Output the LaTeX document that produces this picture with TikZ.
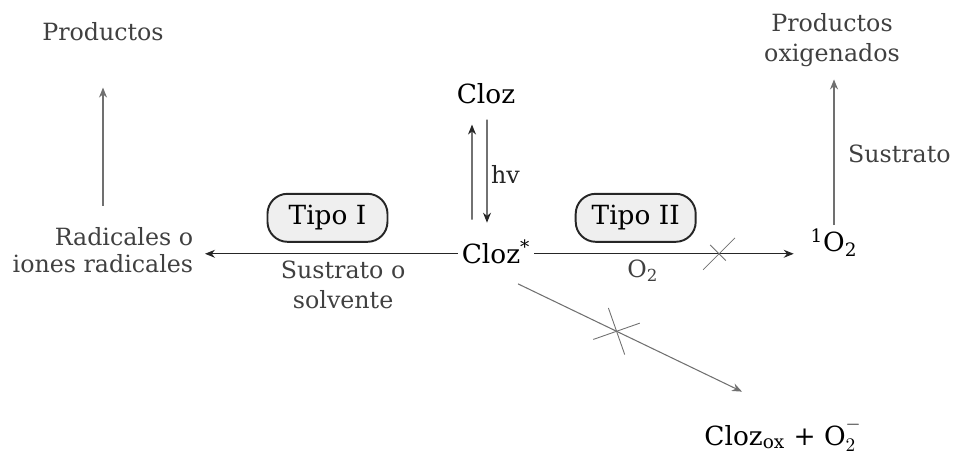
\documentclass[tikz,border=0pt]{standalone}
\usepackage{fontspec}
\setmainfont{DejaVu Serif}
\usepackage{xcolor}
\usetikzlibrary{arrows.meta,positioning,calc,shapes.misc}
\definecolor{clozgray}{HTML}{707070}
\definecolor{clozfill}{HTML}{efefef}

\begin{document}
\begin{tikzpicture}[
  x=0.2mm, y=-0.2mm,
  txt/.style={font=\fontsize{13.5}{17}\selectfont, text=black!75, inner sep=2pt},
  big/.style={font=\fontsize{15}{18}\selectfont, text=black, inner sep=2pt},
  tipo/.style={draw=black!85, line width=1.1pt, fill=clozfill, rounded corners=4mm, minimum width=24mm, minimum height=9.6mm, font=\fontsize{15}{18}\selectfont},
  arrow/.style={-{Stealth[length=2mm, width=1.6mm]}, line width=0.6pt, draw=black!85},
  garrow/.style={-{Stealth[length=2mm, width=1.6mm]}, line width=0.6pt, draw=clozgray},
  cross/.style={cross out, draw=clozgray, line width=0.5pt, inner sep=0pt},
]
  \useasboundingbox (0,0) rectangle (953,454);

  % Core species
  \node[big] (cloz) at (486,94) {Cloz};
  \node[big, anchor=base, text height=10.5pt, text depth=0pt] (clozs) at (491,263) {Cloz\rlap{\textsuperscript{*}}};
  \node[big] (oxy) at (834,243) {\textsuperscript{1}O\textsubscript{2}};
  \node[big, anchor=base] (ox) at (783,445) {Cloz\textsubscript{ox} + $\mathrm{O}_2^{-}$};

  % Products
  \node[txt, align=right, anchor=east, font=\fontsize{13.5}{15}\selectfont] (rad) at (197,250) {Radicales o\\iones radicales};
  \node[txt] (prodL) at (103,32) {Productos};
  \node[txt, align=center] (prodR) at (832,40) {Productos\\oxigenados};

  % Arrows
  \draw[arrow, shorten <=4.2mm, shorten >=3.3mm] ([xshift=-3.8mm]clozs.north) -- ([xshift=-2.8mm]cloz.south);
  \draw[arrow, shorten <=2.3mm, shorten >=3.6mm] ([xshift=0.2mm]cloz.south) -- node[txt, right, text=black!85] {hv} ([xshift=-0.8mm]clozs.north);
  \draw[arrow, shorten >=1.6mm] (clozs.west) --
    node[tipo, above=2.2mm, pos=0.5] (tipoI) {Tipo I}
    node[txt, below=0.6mm, pos=0.44, align=center] {Sustrato o\\solvente}
    (clozs.west -| rad.east);
  \draw[arrow, shorten <=2mm, shorten >=2.6mm] (clozs.east) --
    node[tipo, above=2.2mm, pos=0.395] (tipoII) {Tipo II}
    node[txt, below=0.4mm, pos=0.42] {O\textsubscript{2}}
    node[cross, pos=0.69, minimum size=6.2mm] {}
    (clozs.east -| oxy.west);
  \draw[garrow, shorten <=3.6mm, shorten >=8.5mm] (rad.north -| prodL.south) -- (prodL.south);
  \draw[garrow, shorten >=1.8mm] (oxy.north) -- node[txt, right=2mm, pos=0.46] {Sustrato} (oxy.north |- prodR.south);
  \draw[garrow] ($(clozs.south)+(27,17)$) --
    node[cross, sloped, pos=0.44, minimum size=6.8mm] {}
    ($(ox.north)+(-41,-23)$);
\end{tikzpicture}
\end{document}
